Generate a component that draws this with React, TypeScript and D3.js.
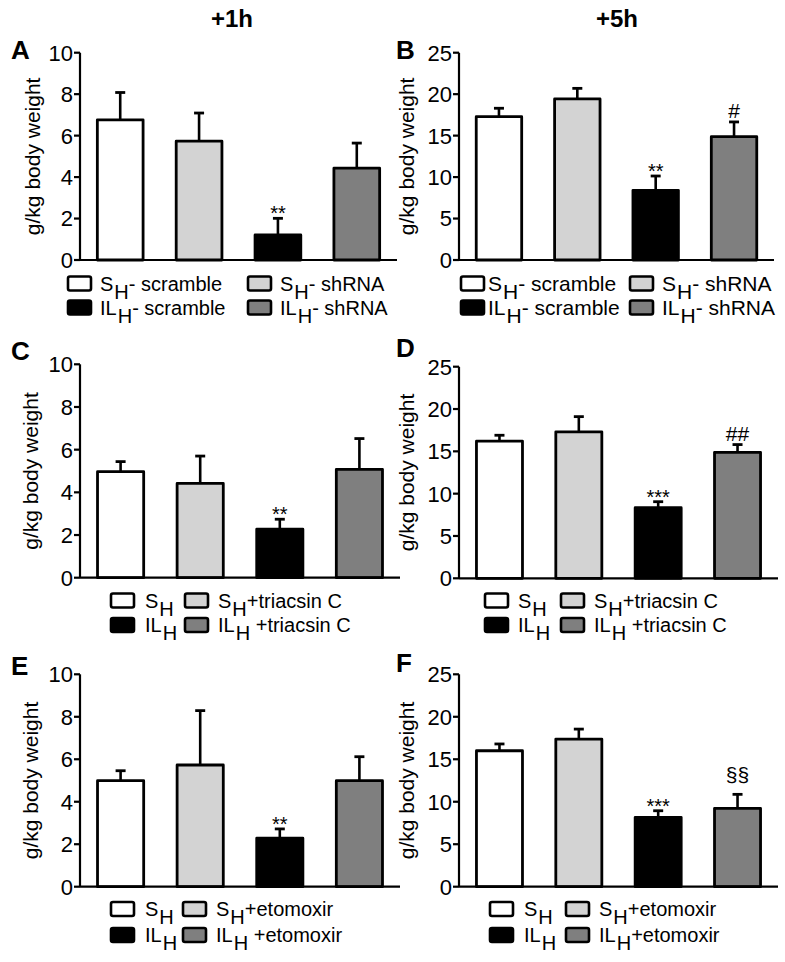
import React from "react";
import * as d3 from "d3";

// ---------- data ----------
const barColors = ["#ffffff", "#d3d3d3", "#000000", "#7f7f7f"];

const meansA = [6.76, 5.73, 1.21, 4.43];
const semA = [1.32, 1.36, 0.8, 1.21];
const marksA = ["", "", "**", ""];

const meansB = [17.28, 19.42, 8.4, 14.87];
const semB = [1.02, 1.28, 1.73, 1.78];
const marksB = ["", "", "**", "#"];

const meansC = [4.97, 4.42, 2.27, 5.08];
const semC = [0.47, 1.28, 0.47, 1.44];
const marksC = ["", "", "**", ""];

const meansD = [16.2, 17.3, 8.34, 14.88];
const semD = [0.7, 1.8, 0.71, 0.92];
const marksD = ["", "", "***", "##"];

const meansE = [4.99, 5.73, 2.28, 4.99];
const semE = [0.47, 2.56, 0.44, 1.13];
const marksE = ["", "", "**", ""];

const meansF = [16.0, 17.38, 8.16, 9.22];
const semF = [0.8, 1.17, 0.78, 1.65];
const marksF = ["", "", "***", "§§"];

const ticks10 = [0, 2, 4, 6, 8, 10];
const ticks25 = [0, 5, 10, 15, 20, 25];

const columnTitles = ["+1h", "+5h"];
const yLabel = "g/kg body weight";

// legend entries: [main, subscript, rest]; order = bar order
const legendShRNA = [
  ["S", "H", "- scramble"],
  ["S", "H", "- shRNA"],
  ["IL", "H", "- scramble"],
  ["IL", "H", "- shRNA"],
];
const legendTriacsin = [
  ["S", "H", ""],
  ["S", "H", "+triacsin C"],
  ["IL", "H", ""],
  ["IL", "H", " +triacsin C"],
];
const legendEtoLeft = [
  ["S", "H", ""],
  ["S", "H", "+etomoxir"],
  ["IL", "H", ""],
  ["IL", "H", " +etomoxir"],
];
const legendEtoRight = [
  ["S", "H", ""],
  ["S", "H", "+etomoxir"],
  ["IL", "H", ""],
  ["IL", "H", "+etomoxir"],
];

// ---------- layout ----------
const FONT = "Arial, 'Liberation Sans', Helvetica, sans-serif";

type Layout = {
  letter: string;
  lx: number;
  ly: number;
  x0: number;
  x1: number;
  yTop: number;
  yBot: number;
  labelX: number;
  b1: number;
  t1: number;
  b2: number;
  t2: number;
  r1: number;
  r2: number;
  lfs: number;
};

const panels: {
  layout: Layout;
  means: number[];
  sem: number[];
  marks: string[];
  yMax: number;
  ticks: number[];
  legend: string[][];
}[] = [
  {
    layout: { letter: "A", lx: 11, ly: 59, x0: 80, x1: 397, yTop: 52.7, yBot: 260, labelX: 33, b1: 68, t1: 100, b2: 248, t2: 280, r1: 290.5, r2: 314.5, lfs: 20 },
    means: meansA, sem: semA, marks: marksA, yMax: 10, ticks: ticks10, legend: legendShRNA,
  },
  {
    layout: { letter: "B", lx: 396, ly: 59, x0: 459, x1: 774, yTop: 52.7, yBot: 260, labelX: 407, b1: 461, t1: 488, b2: 630, t2: 662, r1: 290.5, r2: 314.5, lfs: 21 },
    means: meansB, sem: semB, marks: marksB, yMax: 25, ticks: ticks25, legend: legendShRNA,
  },
  {
    layout: { letter: "C", lx: 11, ly: 360, x0: 80, x1: 400, yTop: 364.3, yBot: 577.7, labelX: 31, b1: 111, t1: 145, b2: 185, t2: 218, r1: 607.5, r2: 632, lfs: 20 },
    means: meansC, sem: semC, marks: marksC, yMax: 10, ticks: ticks10, legend: legendTriacsin,
  },
  {
    layout: { letter: "D", lx: 396, ly: 357, x0: 459, x1: 778, yTop: 366.7, yBot: 578.3, labelX: 407, b1: 485, t1: 518, b2: 561, t2: 594, r1: 607.5, r2: 632, lfs: 20 },
    means: meansD, sem: semD, marks: marksD, yMax: 25, ticks: ticks25, legend: legendTriacsin,
  },
  {
    layout: { letter: "E", lx: 11, ly: 675, x0: 80, x1: 400, yTop: 674.3, yBot: 886.7, labelX: 31, b1: 111, t1: 145, b2: 183, t2: 216, r1: 916, r2: 942, lfs: 20 },
    means: meansE, sem: semE, marks: marksE, yMax: 10, ticks: ticks10, legend: legendEtoLeft,
  },
  {
    layout: { letter: "F", lx: 396, ly: 672, x0: 459, x1: 778, yTop: 674.3, yBot: 886.7, labelX: 407, b1: 490, t1: 524, b2: 566, t2: 599, r1: 916, r2: 942, lfs: 20 },
    means: meansF, sem: semF, marks: marksF, yMax: 25, ticks: ticks25, legend: legendEtoRight,
  },
];

function markOffset(m: string) {
  if (m.startsWith("*")) return 2;
  if (m.startsWith("#")) return -4;
  return -12;
}

function Panel({ p }: { p: (typeof panels)[number] }) {
  const L = p.layout;
  const idx = d3.range(p.means.length).map(String);
  const x = d3.scaleBand().domain(idx).range([L.x0, L.x1]).paddingInner(0.42).paddingOuter(0.22);
  const y = d3.scaleLinear().domain([0, p.yMax]).range([L.yBot, L.yTop]);
  const bw = x.bandwidth();
  const capW = 10;
  const legendPos = [
    { b: L.b1, t: L.t1, r: L.r1 },
    { b: L.b2, t: L.t2, r: L.r1 },
    { b: L.b1, t: L.t1, r: L.r2 },
    { b: L.b2, t: L.t2, r: L.r2 },
  ];
  return (
    <g>
      <text x={L.lx} y={L.ly} fontSize={26} fontWeight="bold" fontFamily={FONT}>
        {L.letter}
      </text>
      {/* y label */}
      <text
        transform={`translate(${L.labelX},${(L.yTop + L.yBot) / 2}) rotate(-90)`}
        textAnchor="middle"
        dy="0.35em"
        fontSize={21}
        fontFamily={FONT}
      >
        {yLabel}
      </text>
      {/* ticks */}
      {p.ticks.map((t) => (
        <g key={t}>
          <line x1={L.x0 - 6} x2={L.x0} y1={y(t)} y2={y(t)} stroke="#000" strokeWidth={2.2} />
          <text x={L.x0 - 7} y={y(t)} dy="0.36em" textAnchor="end" fontSize={22} fontFamily={FONT}>
            {t}
          </text>
        </g>
      ))}
      {/* error bars */}
      {p.means.map((m, i) => {
        const cx = (x(String(i)) as number) + bw / 2;
        return (
          <g key={"e" + i}>
            <line x1={cx} x2={cx} y1={y(m)} y2={y(m + p.sem[i])} stroke="#000" strokeWidth={2.6} />
            <line x1={cx - capW / 2} x2={cx + capW / 2} y1={y(m + p.sem[i])} y2={y(m + p.sem[i])} stroke="#000" strokeWidth={2.8} />
          </g>
        );
      })}
      {/* bars */}
      {p.means.map((m, i) => (
        <rect
          key={"b" + i}
          x={x(String(i))}
          y={y(m)}
          width={bw}
          height={L.yBot - y(m)}
          fill={barColors[i]}
          stroke="#000"
          strokeWidth={2.8}
          strokeLinejoin="round"
        />
      ))}
      {/* significance marks */}
      {p.marks.map((mk, i) =>
        mk ? (
          <text
            key={"m" + i}
            x={(x(String(i)) as number) + bw / 2}
            y={y(p.means[i] + p.sem[i]) + markOffset(mk)}
            textAnchor="middle"
            fontSize={mk.startsWith("*") ? 20 : 21}
            fontFamily={FONT}
          >
            {mk}
          </text>
        ) : null
      )}
      {/* axes */}
      <line x1={L.x0} x2={L.x0} y1={L.yTop} y2={L.yBot} stroke="#000" strokeWidth={2.2} />
      <line x1={L.x0} x2={L.x1} y1={L.yBot} y2={L.yBot} stroke="#000" strokeWidth={2.2} />
      {/* legend */}
      {p.legend.map((lab, i) => {
        const pos = legendPos[i];
        return (
          <g key={"l" + i}>
            <rect x={pos.b} y={pos.r - 14} width={23} height={14} rx={2} fill={barColors[i]} stroke="#000" strokeWidth={2.6} />
            <text x={pos.t} y={pos.r} fontSize={L.lfs} fontFamily={FONT}>
              {lab[0]}
              <tspan dx={1} dy={8}>
                {lab[1]}
              </tspan>
              {lab[2] ? <tspan dy={-8}>{lab[2]}</tspan> : null}
            </text>
          </g>
        );
      })}
    </g>
  );
}

export default function App() {
  return (
    <svg
      width={785}
      height={962}
      style={{ position: "absolute", left: 0, top: 0, background: "#fff" }}
    >
      <rect width={785} height={962} fill="#fff" />
      <text x={232} y={27} textAnchor="middle" fontSize={24} fontWeight="bold" fontFamily={FONT}>
        {columnTitles[0]}
      </text>
      <text x={617} y={27} textAnchor="middle" fontSize={24} fontWeight="bold" fontFamily={FONT}>
        {columnTitles[1]}
      </text>
      {panels.map((p) => (
        <Panel key={p.layout.letter} p={p} />
      ))}
    </svg>
  );
}
